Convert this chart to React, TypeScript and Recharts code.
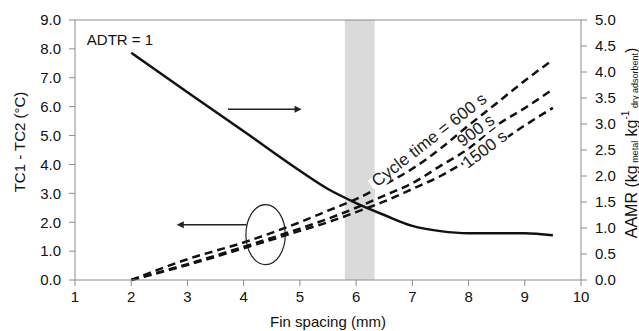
import React from 'react';
import {
  LineChart, Line, XAxis, YAxis, ReferenceArea, ReferenceLine, ReferenceDot,
} from 'recharts';

// fin spacing (mm)
const finSpacing = [2, 3, 4, 5, 5.5, 6, 6.5, 7, 7.5, 8, 8.5, 9, 9.5];
// TC1 - TC2 (°C), left axis
const tc600 = [0, 0.72, 1.3, 2.0, 2.4, 2.8, 3.3, 3.85, 4.55, 5.35, 6.12, 6.9, 7.62];
const tc900 = [0, 0.55, 1.15, 1.78, 2.12, 2.5, 2.92, 3.35, 3.95, 4.55, 5.35, 5.95, 6.6];
const tc1500 = [0, 0.52, 1.1, 1.7, 2.0, 2.35, 2.72, 3.15, 3.6, 4.15, 4.7, 5.35, 5.96];
// AAMR, right axis
const aamr = [4.37, 3.61, 2.86, 2.1, 1.75, 1.48, 1.25, 1.04, 0.94, 0.9, 0.9, 0.9, 0.86];

const xTicks = [1, 2, 3, 4, 5, 6, 7, 8, 9, 10];
const leftTicks = [0, 1, 2, 3, 4, 5, 6, 7, 8, 9];
const rightTicks = [0, 0.5, 1, 1.5, 2, 2.5, 3, 3.5, 4, 4.5, 5];

// optimum fin spacing band
const bandFrom = 5.8;
const bandTo = 6.33;

// cycle time labels placed along the curves
const cycleLabels = [
  { text: 'Cycle time = 600 s', x: 7.36, y: 4.7, angle: -38 },
  { text: '900 s', x: 8.19, y: 5.02, angle: -37 },
  { text: '1500 s', x: 8.35, y: 4.37, angle: -37 },
];

const data = finSpacing.map((x, i) => ({
  x,
  c600: tc600[i],
  c900: tc900[i],
  c1500: tc1500[i],
  aamr: aamr[i],
}));

const FONT = '"Liberation Sans", Arial, sans-serif';
const AXIS = '#8c8c8c';

const Arrow = (props: any) => {
  const { x1, y1, x2, y2 } = props;
  const dir = x2 > x1 ? 1 : -1;
  return (
    <g>
      <line x1={x1} y1={y1} x2={x2 - dir * 4} y2={y2} stroke="#222" strokeWidth={1.4} />
      <path d={`M${x2},${y2} L${x2 - dir * 7},${y2 - 3.5} L${x2 - dir * 7},${y2 + 3.5} Z`} fill="#222" />
    </g>
  );
};

const Ellipse = (props: any) => {
  const { x, y, width, height } = props;
  return (
    <ellipse cx={x + width / 2} cy={y + height / 2} rx={width / 2} ry={height / 2}
      fill="none" stroke="#222" strokeWidth={1.2} />
  );
};

// white patch that breaks the dashed line under a label
const tiltBox = (text: string, angle: number) => (props: any) => {
  const { cx, cy } = props;
  const w = text.length * 17 * 0.47;
  return (
    <rect x={cx - w / 2 - 2} y={cy - 11} width={w + 4} height={14} fill="#fff"
      transform={`rotate(${angle} ${cx} ${cy})`} />
  );
};

const tiltText = (text: string, angle: number) => (props: any) => {
  const { cx, cy } = props;
  return (
    <text x={cx} y={cy} textAnchor="middle" fontSize={17} fill="#222" fontFamily={FONT}
      transform={`rotate(${angle} ${cx} ${cy})`}>{text}</text>
  );
};

const plainText = (text: string) => (props: any) => (
  <text x={props.cx} y={props.cy} fontSize={15} fill="#111" fontFamily={FONT}>{text}</text>
);

const LeftLabel = (props: any) => {
  const vb = props.viewBox;
  const cx = vb.x + 19;
  const cy = vb.y + vb.height / 2 - 8;
  return (
    <text x={cx} y={cy} transform={`rotate(-90 ${cx} ${cy})`} textAnchor="middle"
      dominantBaseline="central" fontSize={15} fill="#111" fontFamily={FONT}>
      TC1 - TC2 (°C)
    </text>
  );
};

const RightLabel = (props: any) => {
  const vb = props.viewBox;
  const cx = vb.x + 50;
  const cy = vb.y + vb.height / 2 - 7;
  return (
    <text x={cx} y={cy} transform={`rotate(-90 ${cx} ${cy})`} textAnchor="middle"
      dominantBaseline="central" fontSize={16} fill="#111" fontFamily={FONT}>
      AAMR (kg
      <tspan fontSize={9} dy={4}> metal</tspan>
      <tspan dy={-4}> kg</tspan>
      <tspan fontSize={10} dy={-6}>-1</tspan>
      <tspan fontSize={9} dy={10}> dry adsorbent</tspan>
      <tspan dy={-4}>)</tspan>
    </text>
  );
};

export default function App() {
  return (
    <div style={{ position: 'absolute', left: 0, top: 0, background: '#fff' }}>
      <LineChart width={639} height={331} data={data}
        margin={{ top: 20, right: 0, bottom: 0, left: 0 }}
        style={{ fontFamily: FONT }}>
        <XAxis dataKey="x" type="number" domain={[1, 10]} ticks={xTicks} allowDataOverflow
          height={51} stroke={AXIS} tickSize={6} tickMargin={5}
          tick={{ fontSize: 15, fill: '#111' }}
          label={{ value: 'Fin spacing (mm)', position: 'insideBottom', offset: 4, fontSize: 15, fill: '#111' }} />
        <YAxis yAxisId="left" domain={[0, 9]} ticks={leftTicks} width={75} stroke={AXIS}
          tickSize={6} tickMargin={8} tick={{ fontSize: 15, fill: '#111' }}
          tickFormatter={(v: number) => v.toFixed(1)} label={{ content: LeftLabel }} />
        <YAxis yAxisId="right" orientation="right" domain={[0, 5]} ticks={rightTicks} width={58}
          stroke={AXIS} tickSize={6} tickMargin={8} tick={{ fontSize: 15, fill: '#111' }}
          tickFormatter={(v: number) => v.toFixed(1)} label={{ content: RightLabel }} />

        <ReferenceLine yAxisId="left" y={9} stroke={AXIS} strokeWidth={1} />

        <ReferenceArea yAxisId="left" x1={bandFrom} x2={bandTo} y1={0} y2={9}
          fill="#dadada" fillOpacity={1} stroke="none" />

        <Line yAxisId="left" dataKey="c600" type="monotone" stroke="#111" strokeWidth={2.5}
          strokeDasharray="8 5" dot={false} isAnimationActive={false} />
        <Line yAxisId="left" dataKey="c900" type="monotone" stroke="#111" strokeWidth={2.5}
          strokeDasharray="8 5" dot={false} isAnimationActive={false} />
        <Line yAxisId="left" dataKey="c1500" type="monotone" stroke="#111" strokeWidth={2.5}
          strokeDasharray="8 5" dot={false} isAnimationActive={false} />

        <Line yAxisId="right" dataKey="aamr" type="monotone" stroke="#111" strokeWidth={2.5}
          dot={false} isAnimationActive={false} />

        {cycleLabels.map((l) => (
          <ReferenceDot key={'b' + l.text} yAxisId="left" x={l.x} y={l.y} r={0} shape={tiltBox(l.text, l.angle)} />
        ))}
        {cycleLabels.map((l) => (
          <ReferenceDot key={'t' + l.text} yAxisId="left" x={l.x} y={l.y} r={0} shape={tiltText(l.text, l.angle)} />
        ))}
        <ReferenceDot yAxisId="left" x={1.21} y={8.14} r={0} shape={plainText('ADTR = 1')} />

        <ReferenceLine yAxisId="left" segment={[{ x: 3.72, y: 5.91 }, { x: 5.03, y: 5.91 }]} shape={Arrow} />
        <ReferenceLine yAxisId="left" segment={[{ x: 4.05, y: 1.91 }, { x: 2.81, y: 1.91 }]} shape={Arrow} />
        <ReferenceArea yAxisId="left" x1={4.04} x2={4.74} y1={0.53} y2={2.61} shape={Ellipse} />
      </LineChart>
    </div>
  );
}
